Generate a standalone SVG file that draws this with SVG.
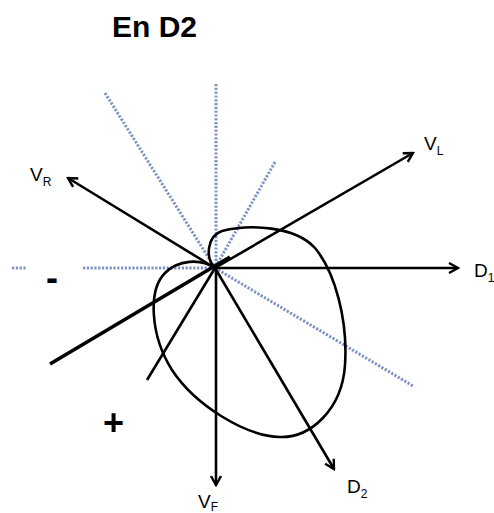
<svg xmlns="http://www.w3.org/2000/svg" width="494" height="513" viewBox="0 0 494 513">
<style>
.dot{stroke:#7d93c4;stroke-width:3;stroke-dasharray:2.2 1.6;fill:none}
.ax{stroke:#000;stroke-width:2.6;fill:none}
.lbl{font-family:"Liberation Sans",Arial,sans-serif;font-size:19px;fill:#000}
.sub{font-size:12px}
</style>
<defs>
<marker id="ah" viewBox="0 0 12 12" refX="10" refY="6" markerWidth="12" markerHeight="12" markerUnits="userSpaceOnUse" orient="auto">
<polyline points="1,1 10,6 1,11" fill="none" stroke="#000" stroke-width="2.4"/>
</marker>
</defs>
<rect width="494" height="513" fill="#fff"/>
<text x="112" y="37" font-family="Liberation Sans,Arial,sans-serif" font-weight="bold" font-size="30">En D2</text>
<g id="dotted">
<line class="dot" x1="216" y1="84" x2="216" y2="268"/>
<line class="dot" x1="105" y1="93" x2="215" y2="268"/>
<line class="dot" x1="275" y1="162" x2="215" y2="268"/>
<line class="dot" x1="12" y1="268" x2="26" y2="268"/>
<line class="dot" x1="83" y1="268" x2="215" y2="268"/>
<line class="dot" x1="215" y1="268" x2="413" y2="386"/>
</g>
<g id="connectors">
<line class="ax" x1="215" y1="268" x2="68" y2="178" marker-end="url(#ah)"/>
<line class="ax" x1="215" y1="268" x2="413" y2="153" marker-end="url(#ah)"/>
<line x1="50" y1="364" x2="230" y2="257" stroke="#000" stroke-width="3.6"/>
<line class="ax" x1="215" y1="268" x2="458" y2="268" marker-end="url(#ah)"/>
<line class="ax" x1="216" y1="268" x2="216" y2="485" marker-end="url(#ah)"/>
<line class="ax" x1="215" y1="268" x2="334" y2="469" marker-end="url(#ah)"/>
<line class="ax" x1="215" y1="268" x2="147" y2="380"/>
<path class="ax" d="M215,268 C205,258 207,236 222,231 C250,224 295,226 315,248 C335,272 348,320 345,365 C342,410 310,438 280,437 C245,436 195,405 172,370 C150,335 148,290 165,273 C178,260 200,258 215,268 Z"/>
</g>
<g id="labels">
<text class="lbl" x="424" y="150">V<tspan class="sub" dy="5">L</tspan></text>
<text class="lbl" x="30" y="181">V<tspan class="sub" dy="5">R</tspan></text>
<text class="lbl" x="474" y="277">D<tspan class="sub" dy="5">1</tspan></text>
<text class="lbl" x="347" y="493">D<tspan class="sub" dy="5">2</tspan></text>
<text class="lbl" x="198" y="508">V<tspan class="sub" dy="3">F</tspan></text>
<text x="46" y="290" font-family="Liberation Sans,Arial,sans-serif" font-weight="bold" font-size="36">-</text>
<text x="103" y="435" font-family="Liberation Sans,Arial,sans-serif" font-weight="bold" font-size="36">+</text>
</g>
</svg>
